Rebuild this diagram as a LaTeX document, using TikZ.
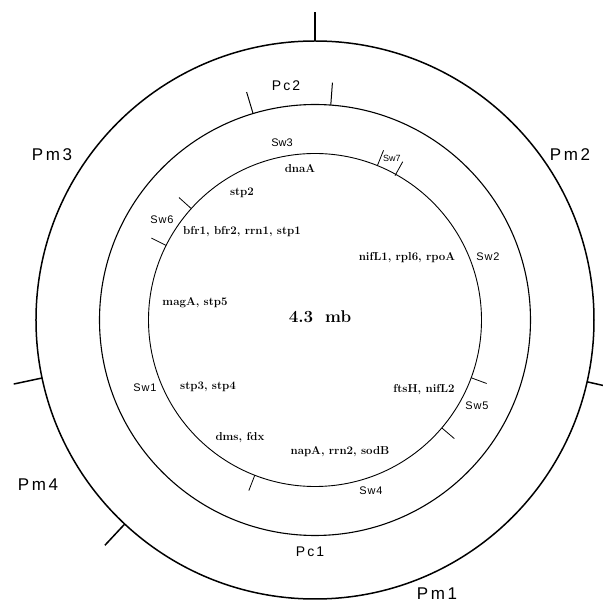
\documentclass[tikz,border=0pt]{standalone}
\usepackage{fontspec}
\newfontfamily\pmfont[LetterSpace=15]{Liberation Sans}
\newfontfamily\swfont[LetterSpace=8]{Liberation Sans}
\newfontfamily\swtight{Liberation Sans}
\tikzset{
  pm/.style={font=\pmfont\fontsize{17}{17}\selectfont, inner sep=0pt},
  pc/.style={font=\pmfont\fontsize{14}{14}\selectfont, inner sep=0pt},
  sw/.style={font=\swfont\fontsize{11}{11}\selectfont, inner sep=0pt},
  gene/.style={font=\fontsize{11.5}{13}\selectfont\bfseries, inner sep=0pt},
}
\begin{document}
\begin{tikzpicture}[x=1pt, y=1pt]
\useasboundingbox (-315,-282) rectangle (288,320);

\draw [line width=1.5pt] (0,0) circle (279pt);
\draw [line width=1.1pt] (0,0) circle (215.5pt);
\draw [line width=0.9pt] (0,0) circle (166.5pt);

\draw [line width=1.5pt] (90:279pt) -- (90:308pt);
\draw [line width=1.5pt] (192:279pt) -- (192:308pt);
\draw [line width=1.5pt] (227:279pt) -- (227:308pt);
\draw [line width=1.5pt] (-12.8:279pt) -- (-12.8:308pt);

\draw [line width=1pt] (106.7:215.5pt) -- (106.7:238pt);
\draw [line width=1pt] (85.8:215.5pt) -- (85.8:238pt);

\draw [line width=0.8pt] (68:166.5pt) -- (68:183pt);
\draw [line width=0.8pt] (61:165pt) -- (61:181pt);
\draw [line width=0.8pt] (138:166.5pt) -- (138:183pt);
\draw [line width=0.8pt] (153.4:166.5pt) -- (153.4:183pt);
\draw [line width=0.8pt] (248.8:166.5pt) -- (248.8:183pt);
\draw [line width=0.8pt] (-20.3:166.5pt) -- (-20.3:183pt);
\draw [line width=0.8pt] (-40.4:166.5pt) -- (-40.4:183pt);

\node [pm] (pm1) at (122,-274) {Pm1};
\node [pm] (pm2) at (255,165) {Pm2};
\node [pm] (pm3) at (-263,165) {Pm3};
\node [pm] (pm4) at (-277,-165) {Pm4};

\node [pc] (pc1) at (-5,-232) {Pc1};
\node [pc] (pc2) at (-29,234) {Pc2};

\node [sw] (sw1) at (-170,-68) {Sw1};
\node [sw] (sw2) at (173,63) {Sw2};
\node [sw, font=\swtight\fontsize{11}{11}\selectfont] (sw3) at (-33,177) {Sw3};
\node [sw] (sw4) at (56,-171) {Sw4};
\node [sw] (sw5) at (162,-86) {Sw5};
\node [sw] (sw6) at (-153,100) {Sw6};
\node [sw, font=\swtight\fontsize{9}{9}\selectfont] (sw7) at (77,162) {Sw7};

\node [gene] (dnaa) at (-15,151) {dnaA};
\node [gene] (stp2) at (-73,127) {stp2};
\node [gene] (bfr) at (-73,88) {bfr1, bfr2, rrn1, stp1};
\node [gene] (nifl1) at (92,62) {nifL1, rpl6, rpoA};
\node [gene] (maga) at (-120,17) {magA, stp5};
\node [gene] (stp34) at (-107,-67) {stp3, stp4};
\node [gene] (ftsh) at (109,-70) {ftsH, nifL2};
\node [gene] (dms) at (-75,-118) {dms, fdx};
\node [gene] (napa) at (25,-132) {napA, rrn2, sodB};

\node [gene, font=\fontsize{17}{19}\selectfont\bfseries] (size) at (5,3) {4.3\hspace{0.7em}mb};
\end{tikzpicture}
\end{document}
